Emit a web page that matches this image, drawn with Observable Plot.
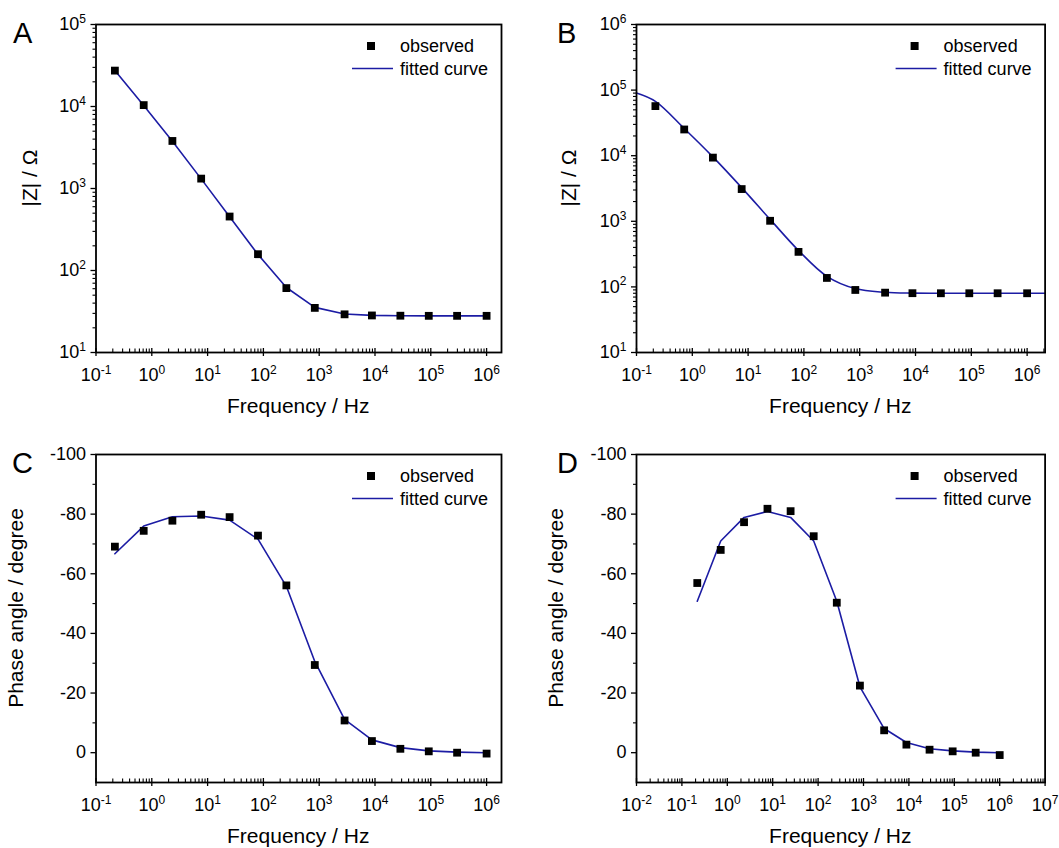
<!DOCTYPE html>
<html><head><meta charset="utf-8">
<script src="https://cdn.jsdelivr.net/npm/d3@7"></script>
<script src="https://cdn.jsdelivr.net/npm/@observablehq/plot@0.6"></script>
<style>
body{margin:0;background:#fff;}
#fig{position:relative;width:1059px;height:848px;font-family:"Liberation Sans",Arial,sans-serif;background:#fff;}
.panel{position:absolute;}
.panel svg{overflow:visible;}
</style></head><body><div id="fig"></div>
<script>
// ---------- data ----------
const freq = [0.218, 0.716, 2.34, 7.67, 24.8, 80, 258, 834, 2850, 8810, 28500, 92000, 296000, 1000000];
const zObsA = [27400, 10400, 3800, 1320, 455, 158, 61, 35, 29.2, 28.3, 28.1, 28.0, 28.0, 28.0];
const zFitA = [27400, 10300, 3780, 1310, 452, 157, 62, 35.5, 29.5, 28.4, 28.1, 28.0, 28.0, 28.0];
const freqFitB = [0.1, 0.218, 0.716, 2.34, 7.67, 24.8, 80, 258, 834, 2850, 8810, 28500, 92000, 296000, 1000000, 2100000];
const zObsB = [57000, 25100, 9350, 3100, 1018, 342, 137, 89.8, 81.7, 80.2, 80.0, 80.0, 80.0, 80.0];
const zFitB = [90200, 67300, 26000, 9590, 3260, 1069, 359, 145, 94.2, 82.7, 80.3, 80.0, 80.0, 80.0, 80.0, 80.0];
const phObsC = [-69.1, -74.4, -77.8, -79.8, -79.0, -72.8, -56.1, -29.4, -10.8, -3.9, -1.3, -0.45, 0, 0.3];
const phFitC = [-66.7, -76.0, -79.1, -79.4, -78.0, -71.6, -55.8, -30.6, -11.2, -4.3, -1.7, -0.6, -0.2, 0];
const phObsD = [-56.9, -68.0, -77.3, -81.8, -81.0, -72.6, -50.3, -22.5, -7.5, -2.7, -1.0, -0.45, 0, 0.8];
const phFitD = [-50.8, -71.0, -78.9, -80.9, -78.9, -71.0, -50.8, -22.1, -8.1, -3.4, -1.3, -0.6, -0.2, 0];

// tick values
const xTicksABC = [1e-1, 1e0, 1e1, 1e2, 1e3, 1e4, 1e5, 1e6];
const xTicksD = [1e-2, 1e-1, 1e0, 1e1, 1e2, 1e3, 1e4, 1e5, 1e6, 1e7];
const yTicksA = [1e1, 1e2, 1e3, 1e4, 1e5];
const yTicksB = [1e1, 1e2, 1e3, 1e4, 1e5, 1e6];
const yTicksPhase = [-100, -80, -60, -40, -20, 0];
const yMinorPhase = [-90, -70, -50, -30, -10];
const legendLabels = ["observed", "fitted curve"];
const panelLetters = ["A", "B", "C", "D"];
const xTitle = "Frequency / Hz";
const yTitleZ = "|Z| / Ω";
const yTitlePh = "Phase angle / degree";

const LINE = "#1c1ca4";
const FONT = '"Liberation Sans", Arial, sans-serif';

function logMinors(lo, hi) {
  const out = [];
  for (let e = Math.floor(Math.log10(lo)); e < Math.ceil(Math.log10(hi)); e++)
    for (let m = 2; m <= 9; m++) { const v = m * Math.pow(10, e); if (v > lo && v < hi) out.push(v); }
  return out;
}
const pow10 = v => "10^" + Math.round(Math.log10(v));

function panel(cfg) {
  const {left, top, width, height, mL, mR, mT, mB, xDomain, xTicks, yType, yDomain, yTicks, yMinors, yFmt,
    obsX, obsY, fitX, fitY, curve, letter, letterX, yTitle, yTitleDx} = cfg;
  const frameH = height - mT - mB;
  const xMinors = logMinors(xDomain[0], xDomain[1]);
  const obs = obsX.map((f, i) => ({f, v: obsY[i]}));
  const fit = fitX.map((f, i) => ({f, v: fitY[i]}));
  const svg = Plot.plot({
    width, height, marginLeft: mL, marginRight: mR, marginTop: mT, marginBottom: mB,
    style: {fontFamily: FONT, fontSize: "18px", color: "black", background: "transparent", overflow: "visible"},
    x: {type: "log", domain: xDomain},
    y: {type: yType, domain: yDomain},
    marks: [
      Plot.tickX(xMinors, {x: d => d, insetTop: frameH - 3.5, stroke: "black", strokeWidth: 1.1}),
      Plot.tickX(xTicks, {x: d => d, insetTop: frameH - 4, stroke: "black", strokeWidth: 1.3}),
      Plot.axisX(xTicks, {tickSize: 4, tickPadding: 12, tickFormat: pow10, label: null, fontSize: 18, strokeWidth: 1.3}),
      Plot.axisY(yMinors, {tickSize: 3, tickFormat: () => "", label: null, strokeWidth: 1.1}),
      Plot.axisY(yTicks, {tickSize: 5, tickPadding: 5, tickFormat: yFmt, label: null, fontSize: 18, strokeWidth: 1.3}),
      Plot.line(fit, {x: "f", y: "v", stroke: LINE, strokeWidth: 1.6, curve}),
      Plot.dot(obs, {x: "f", y: "v", symbol: "square", r: 4.4, fill: "black", stroke: "none"}),
      Plot.frame({stroke: "black", strokeWidth: 1.8})
    ]
  });
  const s = d3.select(svg);
  // tick labels: size and superscripts for powers of ten
  s.selectAll("text").each(function () {
    this.setAttribute("font-size", "18");
    this.style.fontSize = "18px";
    const m = /^10\^(-?\d+)$/.exec(this.textContent);
    if (!m) return;
    this.textContent = "";
    d3.select(this).append("tspan").text("10");
    d3.select(this).append("tspan").attr("dy", "-0.6em").style("font-size", "12px").text(m[1]);
  });
  const R = width - mR, T = mT, B = height - mB;
  const g = s.append("g").attr("font-family", FONT).attr("fill", "black").attr("text-anchor", "start");
  // legend
  g.append("rect").attr("x", R - 134).attr("y", T + 18).attr("width", 8).attr("height", 8).attr("fill", "black");
  g.append("text").attr("x", R - 101).attr("y", T + 28).style("font-size", "18px").text(legendLabels[0]);
  g.append("line").attr("x1", R - 149).attr("x2", R - 108).attr("y1", T + 44.5).attr("y2", T + 44.5)
    .attr("stroke", LINE).attr("stroke-width", 1.6);
  g.append("text").attr("x", R - 101).attr("y", T + 50.5).style("font-size", "18px").text(legendLabels[1]);
  // titles
  g.append("text").attr("x", (mL + R) / 2).attr("y", B + 61).attr("text-anchor", "middle").style("font-size", "21px").text(xTitle);
  g.append("text").attr("transform", `translate(${mL - yTitleDx},${(T + B) / 2 - 10}) rotate(-90)`)
    .attr("text-anchor", "middle").style("font-size", "21px").text(yTitle);
  g.append("text").attr("x", letterX).attr("y", T + 19).style("font-size", "29px").text(letter);
  const div = document.createElement("div");
  div.className = "panel";
  div.style.left = left + "px"; div.style.top = top + "px";
  div.appendChild(svg);
  document.getElementById("fig").appendChild(div);
}

const fmtPh = d => String(d);

panel({left: 0, top: 0, width: 530, height: 430, mL: 95.5, mR: 29, mT: 24, mB: 78,
  xDomain: [0.1, 1.85e6], xTicks: xTicksABC, yType: "log", yDomain: [10, 1e5], yTicks: yTicksA,
  yMinors: logMinors(10, 1e5), yFmt: pow10, obsX: freq, obsY: zObsA, fitX: freq, fitY: zFitA,
  curve: "linear", letter: panelLetters[0], letterX: 13, yTitle: yTitleZ, yTitleDx: 59});
panel({left: 530, top: 0, width: 529, height: 430, mL: 106, mR: 14.4, mT: 24, mB: 78,
  xDomain: [0.1, 2.1e6], xTicks: xTicksABC, yType: "log", yDomain: [10, 1e6], yTicks: yTicksB,
  yMinors: logMinors(10, 1e6), yFmt: pow10, obsX: freq, obsY: zObsB, fitX: freqFitB, fitY: zFitB,
  curve: "catmull-rom", letter: panelLetters[1], letterX: 27, yTitle: yTitleZ, yTitleDx: 60});
panel({left: 0, top: 430, width: 530, height: 418, mL: 95.5, mR: 29, mT: 24, mB: 66,
  xDomain: [0.1, 1.85e6], xTicks: xTicksABC, yType: "linear", yDomain: [10, -100], yTicks: yTicksPhase,
  yMinors: yMinorPhase, yFmt: fmtPh, obsX: freq, obsY: phObsC, fitX: freq, fitY: phFitC,
  curve: "linear", letter: panelLetters[2], letterX: 12, yTitle: yTitlePh, yTitleDx: 73});
panel({left: 530, top: 430, width: 529, height: 418, mL: 106, mR: 14.4, mT: 24, mB: 66,
  xDomain: [0.01, 1e7], xTicks: xTicksD, yType: "linear", yDomain: [10, -100], yTicks: yTicksPhase,
  yMinors: yMinorPhase, yFmt: fmtPh, obsX: freq, obsY: phObsD, fitX: freq, fitY: phFitD,
  curve: "linear", letter: panelLetters[3], letterX: 27, yTitle: yTitlePh, yTitleDx: 73.5});
</script></body></html>
